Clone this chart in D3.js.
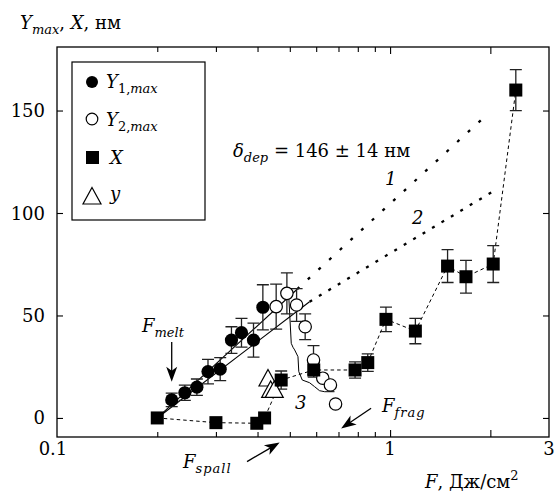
<!DOCTYPE html>
<html><head><meta charset="utf-8">
<script src="https://cdn.jsdelivr.net/npm/d3@7"></script>
</head><body style="margin:0;background:#fff">
<svg id="c" width="554" height="492"></svg>
<script>
// Y1,max : fluence F (J/cm2) and value (nm) with error
const y1F = [0.221, 0.242, 0.263, 0.284, 0.309, 0.334, 0.358, 0.389, 0.415];
const y1V = [8.8, 12.3, 15.0, 22.6, 23.8, 38.0, 41.6, 38.0, 54.0];
const y1E = [3.3, 3.7, 4.0, 6.0, 5.6, 6.5, 7.0, 8.3, 11.0];

// Y2,max
const y2F = [0.455, 0.490, 0.524, 0.556, 0.589, 0.628, 0.662, 0.686];
const y2V = [54.3, 60.8, 55.1, 44.5, 28.3, 19.4, 16.1, 6.8];
const y2E = [11, 10, 8, 6.3, 7, 0, 0, 0];

// X
const xF = [0.2, 0.3, 0.398, 0.42, 0.471, 0.59, 0.785, 0.857, 0.972, 1.191, 1.488, 1.69, 2.04, 2.385];
const xV = [0, -2.3, -2.6, 0, 18.5, 23.4, 23.4, 27, 48.1, 42.4, 74.1, 68.9, 75.1, 160];
const xE = [0, 0, 0, 0, 4.4, 3.5, 4, 4.3, 6, 6.2, 8, 8, 9, 10];

// y
const tF = [0.430, 0.438, 0.449];
const tV = [19.5, 13.9, 13.9];

// model curves 1 and 2 (solid part, dotted continuation)
const c1SolidF = [0.2, 0.526], c1SolidV = [0, 62.8];
const c1DotF = [0.526, 1.984], c1DotV = [62.8, 149];
const c2SolidF = [0.2, 0.573], c2SolidV = [0, 56.7];
const c2DotF = [0.573, 2.03], c2DotV = [56.7, 110.4];

// curve 3
const c3F = [0.497, 0.505, 0.511, 0.517, 0.529, 0.532, 0.545, 0.573, 0.593, 0.614, 0.636, 0.681];
const c3V = [57.6, 36.4, 34.5, 33.2, 29.9, 22.6, 18.5, 17.2, 15.3, 13.3, 12.8, 12.8];

// axis ticks
const xMinorTicks = [0.2, 0.3, 0.4, 0.5, 0.6, 0.7, 0.8, 0.9];
const xMajorTicks = [1, 2];
const xLabels = [0.1, 1, 3];
const yTicks = [0, 50, 100, 150];

const svg = d3.select("#c");
const x = d3.scaleLog().domain([0.1, 3]).range([57, 549]);
const y = d3.scaleLinear().domain([-9.3, 181]).range([437, 47]);
const [X0, X1] = x.range(), [Y0, Y1] = y.range();
const FONT = 18, SUB = 13;

// serif face for every label
const serif = sel => sel.style("font-family", '"DejaVu Serif"');

// plot frame
svg.append("rect").attr("x", X0).attr("y", Y1).attr("width", X1 - X0).attr("height", Y0 - Y1)
  .attr("fill", "none").attr("stroke", "#000").attr("stroke-width", 1.3);

function axis(gen, tx, ty) {
  const g = svg.append("g").attr("transform", `translate(${tx},${ty})`).call(gen);
  g.select(".domain").remove();
  g.selectAll("line").attr("stroke", "#000").attr("stroke-width", 1.1);
  return g;
}
axis(d3.axisBottom(x).tickValues(xMinorTicks).tickSize(-5).tickFormat(""), 0, Y0);
axis(d3.axisBottom(x).tickValues(xMajorTicks).tickSize(-7).tickFormat(""), 0, Y0);
axis(d3.axisTop(x).tickValues(xMinorTicks).tickSize(-5).tickFormat(""), 0, Y1);
axis(d3.axisTop(x).tickValues(xMajorTicks).tickSize(-7).tickFormat(""), 0, Y1);
axis(d3.axisLeft(y).tickValues(yTicks).tickSize(-6).tickFormat(""), X0, 0);
axis(d3.axisRight(y).tickValues(yTicks).tickSize(-6).tickFormat(""), X1, 0);

// tick labels placed through the scales
xLabels.forEach(v => {
  serif(svg.append("text")).attr("x", x(v) - (v === 0.1 ? 4 : 0)).attr("y", Y0 + 18)
    .attr("font-size", FONT).attr("text-anchor", "middle").text(String(v));
});
yTicks.forEach(v => {
  serif(svg.append("text")).attr("x", X0 - 12).attr("y", y(v) + 6.5)
    .attr("font-size", FONT).attr("text-anchor", "end").text(String(v));
});

const line = d3.line().x(d => x(d[0])).y(d => y(d[1]));
const zip = (a, b) => a.map((v, i) => [v, b[i]]);

// model lines
svg.append("path").attr("d", line(zip(c1SolidF, c1SolidV))).attr("fill", "none").attr("stroke", "#000").attr("stroke-width", 1.1);
svg.append("path").attr("d", line(zip(c2SolidF, c2SolidV))).attr("fill", "none").attr("stroke", "#000").attr("stroke-width", 1.1);
svg.append("path").attr("d", line(zip(c1DotF, c1DotV))).attr("fill", "none").attr("stroke", "#000")
  .attr("stroke-width", 2.3).attr("stroke-dasharray", "3,11.5");
svg.append("path").attr("d", line(zip(c2DotF, c2DotV))).attr("fill", "none").attr("stroke", "#000")
  .attr("stroke-width", 2.3).attr("stroke-dasharray", "3,8");
svg.append("path").attr("d", line(zip(c3F, c3V))).attr("fill", "none").attr("stroke", "#000").attr("stroke-width", 1);
// dashed guide through X points
svg.append("path").attr("d", line(zip(xF, xV))).attr("fill", "none").attr("stroke", "#000")
  .attr("stroke-width", 1).attr("stroke-dasharray", "3.5,3");

// error bars
function errBars(F, V, E) {
  const g = svg.append("g").attr("stroke", "#222").attr("stroke-width", 1.3).attr("fill", "none");
  F.forEach((f, i) => {
    if (!E[i]) return;
    const cx = x(f), t = y(V[i] + E[i]), b = y(V[i] - E[i]);
    g.append("path").attr("d", `M${cx},${t}V${b}M${cx - 6},${t}H${cx + 6}M${cx - 6},${b}H${cx + 6}`);
  });
}
errBars(y1F, y1V, y1E);
errBars(y2F, y2V, y2E);
errBars(xF, xV, xE);

const triPath = "M0,-8.5L9,8L-9,8Z";

// markers
svg.append("g").selectAll("path").data(zip(tF, tV)).join("path")
  .attr("d", triPath).attr("transform", d => `translate(${x(d[0])},${y(d[1])})`)
  .attr("fill", "#fff").attr("stroke", "#000").attr("stroke-width", 1.2);
svg.append("g").selectAll("circle").data(zip(y1F, y1V)).join("circle")
  .attr("cx", d => x(d[0])).attr("cy", d => y(d[1])).attr("r", 6.6).attr("fill", "#000");
svg.append("g").selectAll("circle").data(zip(y2F, y2V)).join("circle")
  .attr("cx", d => x(d[0])).attr("cy", d => y(d[1])).attr("r", 6.2)
  .attr("fill", "#fff").attr("stroke", "#000").attr("stroke-width", 1.2);
svg.append("g").selectAll("rect").data(zip(xF, xV)).join("rect")
  .attr("x", d => x(d[0]) - 6.5).attr("y", d => y(d[1]) - 6.5).attr("width", 13).attr("height", 13).attr("fill", "#000");

// rich text: segments {t, it, sub, sup}
function rich(px, py, segs, size) {
  size = size || FONT;
  const t = serif(svg.append("text")).attr("x", px).attr("y", py).attr("font-size", size);
  let shift = 0;
  segs.forEach(s => {
    const want = s.sub ? 5 : s.sup ? -8 : 0;
    const sp = t.append("tspan").text(s.t).attr("dy", want - shift)
      .attr("font-size", (s.sub || s.sup) ? SUB : size);
    if (s.it) sp.attr("font-style", "italic");
    if (s.ls) sp.attr("letter-spacing", s.ls);
    shift = want;
  });
  return t;
}

// axis titles
rich(20, 29, [{t: "Y", it: 1}, {t: "max", it: 1, sub: 1}, {t: ", "}, {t: "X", it: 1}, {t: ", нм"}]);
rich(425, 488, [{t: "F", it: 1}, {t: ", Дж/см"}, {t: "2", sup: 1}]);

// legend
svg.append("rect").attr("x", 72).attr("y", 62).attr("width", 133).attr("height", 158)
  .attr("fill", "#fff").attr("stroke", "#000").attr("stroke-width", 1.2);
svg.append("circle").attr("cx", 92).attr("cy", 82).attr("r", 6).attr("fill", "#000");
svg.append("circle").attr("cx", 92).attr("cy", 119).attr("r", 5.8).attr("fill", "#fff").attr("stroke", "#000").attr("stroke-width", 1.2);
svg.append("rect").attr("x", 86).attr("y", 151).attr("width", 13).attr("height", 13).attr("fill", "#000");
svg.append("path").attr("d", triPath).attr("transform", "translate(92,196)").attr("fill", "#fff").attr("stroke", "#000").attr("stroke-width", 1.2);
rich(106, 88, [{t: "Y", it: 1}, {t: "1,", sub: 1}, {t: "max", it: 1, sub: 1}]);
rich(106, 126, [{t: "Y", it: 1}, {t: "2,", sub: 1}, {t: "max", it: 1, sub: 1}]);
rich(110, 164, [{t: "X", it: 1}]);
rich(110, 200, [{t: "y", it: 1}]);

// annotations
rich(233, 157, [{t: "δ", it: 1}, {t: "dep", it: 1, sub: 1}, {t: " = 146 ± 14 нм"}]);
rich(385, 185, [{t: "1", it: 1}]);
rich(412, 224, [{t: "2", it: 1}]);
rich(295, 409, [{t: "3", it: 1}]);
rich(142, 332, [{t: "F", it: 1}, {t: "melt", it: 1, sub: 1}]);
rich(382, 412, [{t: "F", it: 1}, {t: "frag", it: 1, sub: 1, ls: 1}]);
rich(183, 468, [{t: "F", it: 1}, {t: "spall", it: 1, sub: 1, ls: 1}]);

// arrows (start/end in data units)
const arrows = [
  {from: [0.221, 37.1], to: [0.221, 17.6]},
  {from: [0.877, 4.7], to: [0.713, -5.1]},
  {from: [0.372, -21.3], to: [0.466, -12.0]}
];
arrows.forEach(a => {
  const x0 = x(a.from[0]), y0 = y(a.from[1]), x1 = x(a.to[0]), y1 = y(a.to[1]);
  const ang = Math.atan2(y1 - y0, x1 - x0);
  svg.append("line").attr("x1", x0).attr("y1", y0).attr("x2", x1 - 8 * Math.cos(ang)).attr("y2", y1 - 8 * Math.sin(ang))
    .attr("stroke", "#000").attr("stroke-width", 1.3);
  svg.append("path").attr("d", "M0,0L-15,-5.5L-11,0L-15,5.5Z").attr("fill", "#000")
    .attr("transform", `translate(${x1},${y1}) rotate(${ang * 180 / Math.PI})`);
});
</script>
</body></html>
